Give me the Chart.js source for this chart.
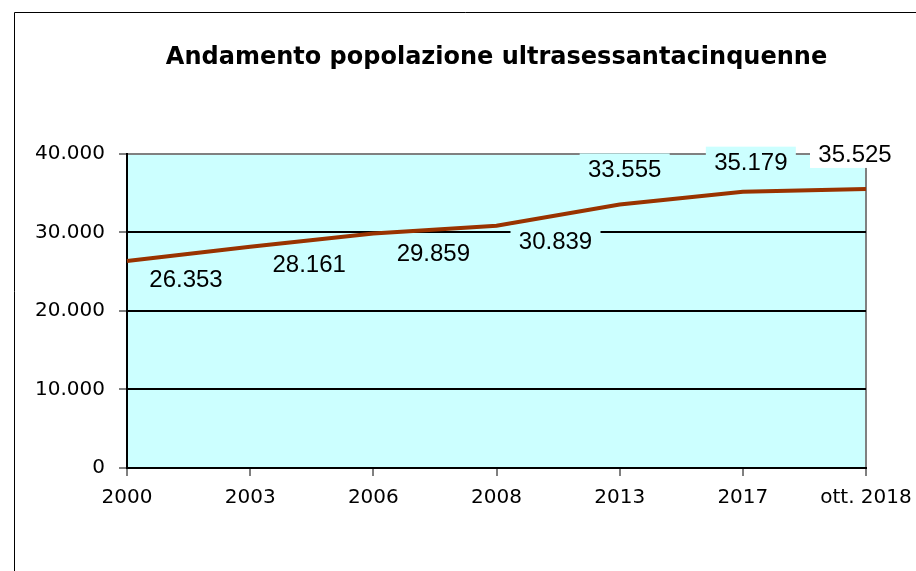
<!DOCTYPE html>
<html>
<head>
<meta charset="utf-8">
<script src="https://cdn.jsdelivr.net/npm/chart.js@4.4.0/dist/chart.umd.min.js"></script>
<style>
  html, body { margin: 0; padding: 0; background: #fff; }
  #wrap { width: 916px; height: 571px; position: relative; }
</style>
</head>
<body>
<div id="wrap"><canvas id="myChart" width="916" height="571"></canvas></div>
<script>
// dati
const years = ['2000', '2003', '2006', '2008', '2013', '2017', 'ott. 2018'];
const over65 = [26353, 28161, 29859, 30839, 33555, 35179, 35525];
const yTicks = [0, 10000, 20000, 30000, 40000];

// formato italiano 40.000
function fmt(v) {
    return String(v).replace(/\B(?=(\d{3})+(?!\d))/g, '.');
}

// spostamento delle etichette rispetto al punto (come nel grafico excel)
const labelShift = [[59, 18], [59, 18], [60, 20], [59, 16], [5, -35], [8, -29], [-11, -35]];
const labelFill = ['#ccffff', '#ccffff', '#ccffff', '#ccffff', '#ccffff', '#ccffff', '#ffffff'];

const bgPlugin = {
    id: 'bg',
    beforeDraw(chart) {
        const ctx = chart.ctx, a = chart.chartArea;
        ctx.save();
        ctx.fillStyle = '#fff';
        ctx.fillRect(0, 0, chart.width, chart.height);
        // cornice esterna
        ctx.strokeStyle = '#000';
        ctx.lineWidth = 1;
        ctx.beginPath();
        ctx.moveTo(14.5, chart.height);
        ctx.lineTo(14.5, 12.5);
        ctx.lineTo(chart.width, 12.5);
        ctx.stroke();
        ctx.fillStyle = '#ccffff';
        ctx.fillRect(a.left, a.top, a.right - a.left, a.bottom - a.top);
        ctx.restore();
    }
};

const labelsPlugin = {
    id: 'valueLabels',
    afterDatasetsDraw(chart) {
        const ctx = chart.ctx;
        const meta = chart.getDatasetMeta(0);
        ctx.save();
        ctx.font = '24px "Liberation Sans", Arial, sans-serif';
        ctx.textAlign = 'center';
        ctx.textBaseline = 'middle';
        meta.data.forEach((pt, i) => {
            const x = pt.x + labelShift[i][0];
            const y = pt.y + labelShift[i][1];
            ctx.fillStyle = labelFill[i];
            ctx.fillRect(x - 45, y - 16, 90, 30);
            ctx.fillStyle = '#000';
            ctx.fillText(fmt(chart.data.datasets[0].data[i]), x, y + 1);
        });
        ctx.restore();
    }
};

Chart.defaults.font.family = '"DejaVu Sans", Verdana, sans-serif';
Chart.defaults.color = '#000';

const chart = new Chart(document.getElementById('myChart'), {
    type: 'line',
    data: {
        labels: years,
        datasets: [{
            label: 'Popolazione 65+',
            data: over65,
            borderColor: '#993300',
            borderWidth: 4,
            pointRadius: 0,
            tension: 0,
            fill: false
        }]
    },
    options: {
        responsive: false,
        animation: false,
        layout: { padding: { left: 0, right: 50, top: 0, bottom: 0 } },
        plugins: {
            legend: { display: false },
            tooltip: { enabled: false },
            title: {
                display: true,
                fullSize: false,
                text: 'Andamento popolazione ultrasessantacinquenne',
                color: '#000',
                font: { size: 24, weight: 'bold' },
                padding: { top: 43, bottom: 82 }
            }
        },
        scales: {
            x: {
                offset: false,
                grid: {
                    drawOnChartArea: true,
                    color: c => c.index === years.length - 1 ? '#808080' : 'rgba(0,0,0,0)',
                    lineWidth: 2,
                    tickLength: 8,
                    tickColor: '#000',
                    tickWidth: 1
                },
                border: { color: '#000', width: 2 },
                ticks: { font: { size: 20 }, padding: 10, maxRotation: 0, autoSkip: false },
                afterFit(s) {
                    s.height = 103;
                    s.paddingLeft = 0;
                    s.paddingRight = 0;
                }
            },
            y: {
                min: 0,
                max: 40000,
                afterBuildTicks(s) {
                    s.ticks = yTicks.map(v => ({ value: v }));
                },
                grid: {
                    color: c => c.tick && c.tick.value === 40000 ? '#808080' : '#000',
                    lineWidth: 2,
                    tickLength: 8,
                    tickColor: '#000',
                    tickWidth: 1
                },
                border: { color: '#000', width: 2 },
                ticks: { font: { size: 20 }, padding: 14, callback: v => fmt(v) },
                afterFit(s) {
                    s.width = 127;
                    s.paddingTop = 0;
                    s.paddingBottom = 0;
                }
            }
        }
    },
    plugins: [bgPlugin, labelsPlugin]
});
</script>
</body>
</html>
